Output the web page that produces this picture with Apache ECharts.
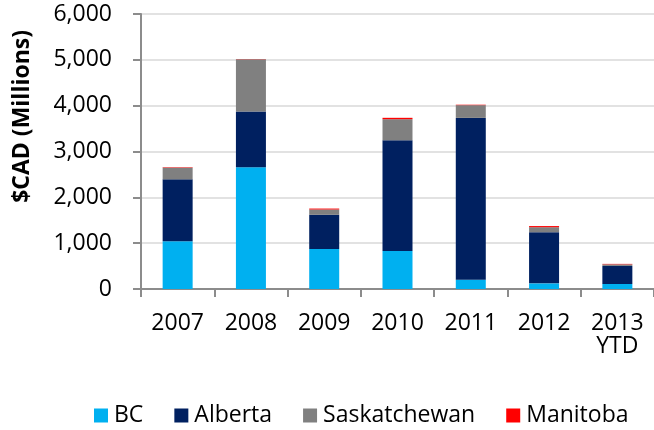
<!DOCTYPE html>
<html>
<head>
<meta charset="utf-8">
<script src="https://cdn.jsdelivr.net/npm/echarts@6/dist/echarts.min.js"></script>
<style>
  html, body { margin: 0; padding: 0; background: #fff; }
  #chart { width: 654px; height: 430px; }
</style>
</head>
<body>
<div id="chart"></div>
<script>
let years = ['2007', '2008', '2009', '2010', '2011', '2012', '2013\nYTD']
let bc = [1042, 2654, 875, 831, 203, 123, 109]
let alberta = [1350, 1219, 744, 2414, 3530, 1116, 394]
let saskatchewan = [256, 1138, 116, 460, 278, 109, 35]
let manitoba = [10, 5, 20, 30, 10, 25, 10]
let yTicks = [0, 1000, 2000, 3000, 4000, 5000, 6000]

let font = '"Open Sans", sans-serif'

let chart = echarts.init(document.getElementById('chart'))

function bar(name, data, color) {
  return {
    name: name,
    type: 'bar',
    stack: 'total',
    barWidth: 30,
    data: data,
    itemStyle: { color: color },
    emphasis: { disabled: true }
  }
}

chart.setOption({
  animation: false,
  textStyle: { fontFamily: font, color: '#000' },
  grid: { left: 141, right: -3, top: 14, bottom: 141 },
  legend: {
    left: 94,
    top: 404,
    padding: 0,
    itemWidth: 14,
    itemHeight: 14,
    itemGap: 31,
    icon: 'rect',
    textStyle: { fontFamily: font, fontSize: 23, color: '#000', padding: [0, 0, 0, 1] },
    data: ['BC', 'Alberta', 'Saskatchewan', 'Manitoba']
  },
  xAxis: {
    type: 'category',
    data: years,
    axisLine: { lineStyle: { color: '#8c8c8c', width: 2 } },
    axisTick: { show: true, length: 8, lineStyle: { color: '#8c8c8c', width: 2 } },
    axisLabel: { fontFamily: font, fontSize: 23, color: '#000', margin: 23, lineHeight: 23 }
  },
  yAxis: {
    type: 'value',
    min: yTicks[0],
    max: yTicks[yTicks.length - 1],
    interval: 1000,
    axisLine: { show: true, lineStyle: { color: '#8c8c8c', width: 2 } },
    axisTick: { show: true, length: 8, lineStyle: { color: '#8c8c8c', width: 2 } },
    splitLine: { lineStyle: { color: '#d9d9d9', width: 1.5 } },
    axisLabel: {
      fontFamily: font,
      fontSize: 23,
      color: '#000',
      margin: 29,
      formatter: function (v) { return v.toLocaleString('en-US') }
    }
  },
  graphic: [{
    type: 'text',
    left: 11,
    top: 30,
    rotation: Math.PI / 2,
    style: {
      text: '$CAD (Millions)',
      font: 'bold 23px ' + font,
      fill: '#000'
    }
  }],
  series: [
    bar('BC', bc, '#00b0f0'),
    bar('Alberta', alberta, '#002060'),
    bar('Saskatchewan', saskatchewan, '#808080'),
    bar('Manitoba', manitoba, '#ff0000')
  ]
})
</script>
</body>
</html>
